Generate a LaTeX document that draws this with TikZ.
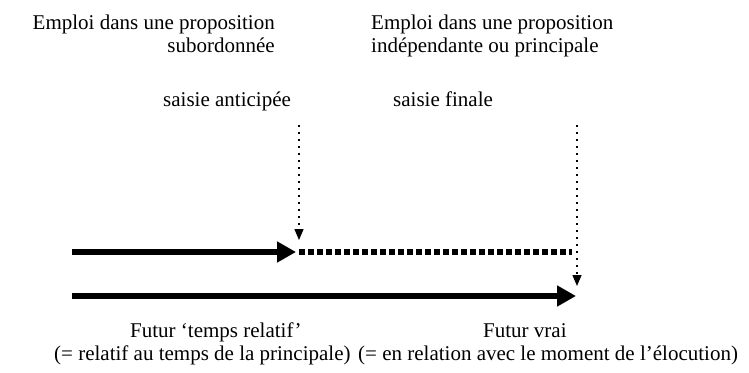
\documentclass[tikz,border=0pt]{standalone}
\usepackage{fontspec}
\setmainfont{Liberation Serif}
\usetikzlibrary{arrows.meta}
\tikzset{
  lbl/.style={inner sep=0pt, font=\fontsize{21}{23}\selectfont},
  thickarrow/.style={line width=6.8pt, -{Triangle[length=19pt,width=20pt]}},
  squaredots/.style={line width=6.5pt, dash pattern=on 6pt off 3pt},
  dotarrow/.style={line width=1.4pt, dash pattern=on 1.6pt off 5.4pt, -{Triangle[length=11pt,width=9pt]}}
}
\begin{document}
\begin{tikzpicture}[x=1pt,y=-1pt]
\useasboundingbox (0,0) rectangle (749,372);

% headings
\node[lbl, anchor=base east] (h1a) at (275,29) {Emploi dans une proposition};
\node[lbl, anchor=base east] (h1b) at (275,52) {subordonnée};
\node[lbl, anchor=base west] (h2a) at (371,29) {Emploi dans une proposition};
\node[lbl, anchor=base west] (h2b) at (371,52) {indépendante ou principale};

% kinds of grasp
\node[lbl, anchor=base west] (s1) at (163,106) {saisie anticipée};
\node[lbl, anchor=base west] (s2) at (393,106) {saisie finale};

% lower labels
\node[lbl, anchor=base west] (f1a) at (130,337) {Futur ‘temps relatif’};
\node[lbl, anchor=base west] (f1b) at (54,360) {(= relatif au temps de la principale)};
\node[lbl, anchor=base west] (f2a) at (483,337) {Futur vrai};
\node[lbl, anchor=base west] (f2b) at (358,360) {(= en relation avec le moment de l’élocution)};

% anchor points of the time lines
\coordinate (t1s) at (72,252);
\coordinate (t1e) at (296,252);
\coordinate (d1s) at (299,252);
\coordinate (d1e) at (572,252);
\coordinate (t2s) at (72,296);
\coordinate (t2e) at (576,296);
\coordinate (v1s) at (299,125);
\coordinate (v1e) at (299,240);
\coordinate (v2s) at (577,125);
\coordinate (v2e) at (577,286);

% time lines
\draw[thickarrow] (t1s) -- (t1e);
\draw[squaredots] (d1s) -- (d1e);
\draw[thickarrow] (t2s) -- (t2e);

% grasp markers
\draw[dotarrow] (v1s) -- (v1e);
\draw[dotarrow] (v2s) -- (v2e);
\end{tikzpicture}
\end{document}
